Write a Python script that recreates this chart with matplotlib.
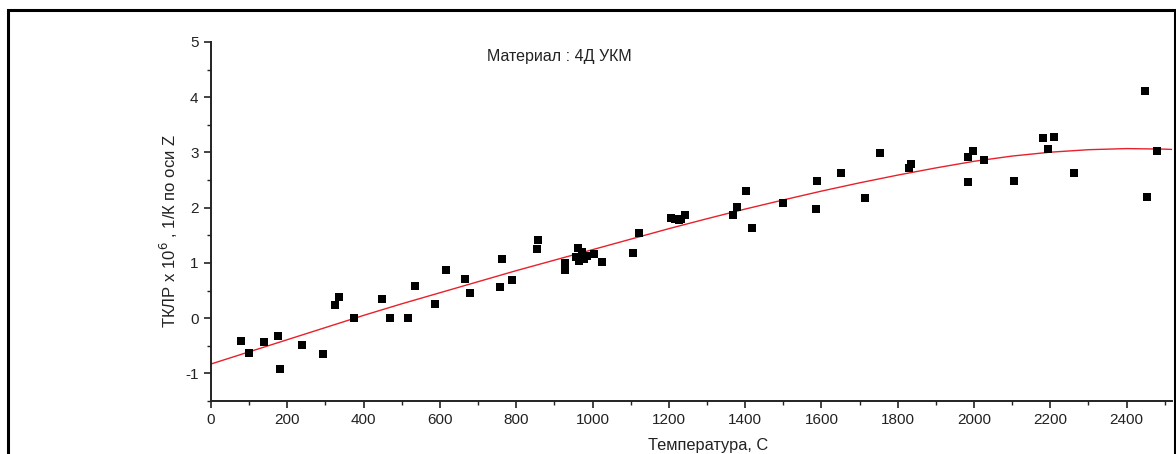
import matplotlib
matplotlib.use("Agg")
import matplotlib.pyplot as plt
from matplotlib.patches import Rectangle
from matplotlib.ticker import MultipleLocator

plt.rcParams["font.family"] = ["Liberation Sans", "DejaVu Sans"]
plt.rcParams["axes.unicode_minus"] = False

# measured points: temperature, C / TKLR x 1e6, 1/K
temp = [79, 100, 139, 176, 181, 239, 294, 325, 336, 375,
        448, 469, 516, 535, 587, 616, 666, 679, 757, 764,
        788, 855, 857, 927, 927, 927, 958, 961, 965, 972,
        978, 985, 1005, 1024, 1105, 1121, 1205, 1216, 1227, 1233,
        1243, 1368, 1380, 1403, 1417, 1500, 1587, 1588, 1651, 1714,
        1754, 1830, 1835, 1984, 1985, 1997, 2026, 2106, 2181, 2195,
        2210, 2262, 2448, 2454, 2479]
tklr = [-0.41, -0.63, -0.43, -0.32, -0.92, -0.48, -0.64, 0.24, 0.39, 0.0,
        0.35, 0.0, 0.0, 0.58, 0.26, 0.87, 0.70, 0.46, 0.57, 1.08,
        0.69, 1.25, 1.42, 1.00, 0.94, 0.87, 1.11, 1.27, 1.04, 1.20,
        1.08, 1.13, 1.17, 1.02, 1.18, 1.54, 1.81, 1.79, 1.78, 1.79,
        1.86, 1.86, 2.01, 2.31, 1.64, 2.09, 1.97, 2.49, 2.63, 2.17,
        2.99, 2.71, 2.80, 2.92, 2.46, 3.03, 2.86, 2.48, 3.27, 3.06,
        3.28, 2.62, 4.12, 2.20, 3.02]

# fitted curve
fit_t = [0, 100, 200, 300, 400, 500, 600, 700, 800, 900,
         1000, 1100, 1200, 1300, 1400, 1500, 1600, 1700, 1800, 1900,
         2000, 2100, 2200, 2300, 2400, 2500, 2520]
fit_y = [-0.83, -0.61, -0.39, -0.17, 0.05, 0.26, 0.46, 0.66, 0.86, 1.05,
         1.24, 1.43, 1.62, 1.80, 1.975, 2.14, 2.30, 2.45, 2.59, 2.72,
         2.84, 2.935, 3.005, 3.05, 3.07, 3.06, 3.055]

W, H = 1176, 454
fig = plt.figure(figsize=(W / 100, H / 100), dpi=100)
fig.patches.append(Rectangle((8 / W, -0.05), (1175 - 8) / W, 1.05 - 10 / H,
                             transform=fig.transFigure, fill=False,
                             edgecolor="black", linewidth=2.2))

ax = fig.add_axes([211 / W, 1 - 401 / H, (1172.4 - 211) / W, (401 - 42) / H])
ax.plot(fit_t, fit_y, color="#e8202a", linewidth=1.0, zorder=2)
ax.scatter(temp, tklr, marker="s", s=30, color="black", linewidths=0, zorder=3)

ax.set_xlim(0, 2520)
ax.set_ylim(-1.5, 5)
ax.xaxis.set_minor_locator(MultipleLocator(100))
ax.yaxis.set_major_locator(MultipleLocator(1))
ax.yaxis.set_minor_locator(MultipleLocator(0.5))
ax.set_xticks(range(0, 2401, 200))
ax.set_yticks(range(-1, 6))
ax.set_xlim(0, 2520)
ax.set_ylim(-1.5, 5)

for side in ("top", "right"):
    ax.spines[side].set_visible(False)
for side in ("left", "bottom"):
    ax.spines[side].set_linewidth(1.4)
    ax.spines[side].set_color("#222222")

ax.tick_params(which="major", direction="out", length=5, width=1.2,
               colors="#222222", labelsize=11, pad=4)
ax.tick_params(which="minor", direction="out", length=3, width=1.0,
               colors="#222222")

ax.set_xlabel("Температура, С", fontsize=11.8, color="#222222")
ax.xaxis.set_label_coords(0.517, -0.103)
ax.set_ylabel("ТКЛР x 10$^6$ , 1/К по оси Z", fontsize=12, color="#222222")
ax.yaxis.set_label_coords(-0.032, 0.473)

fig.text(487 / W, 1 - 57 / H, "Материал : 4Д УКМ", fontsize=11.5,
         color="#222222", va="center", ha="left")

fig.savefig("out.png", dpi=100)
